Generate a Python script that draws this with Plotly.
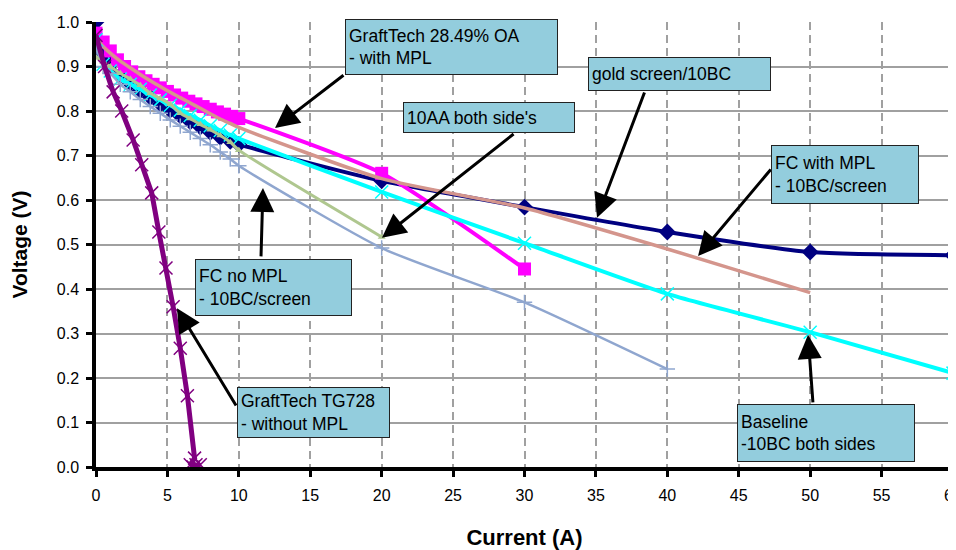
import plotly.graph_objects as go

# ---------------- data ----------------
I_low = [0, 0.5, 1.0, 1.7, 2.4, 3.1, 3.8, 4.5, 5.2, 5.9, 6.6, 7.3, 8.0, 8.7, 9.4, 10.0]

gold_I = I_low + [20, 30, 40, 50, 60]
gold_V = [1.0, 0.93, 0.905, 0.88, 0.862, 0.846, 0.831, 0.816, 0.802, 0.789, 0.776, 0.764,
          0.752, 0.741, 0.732, 0.725, 0.643, 0.584, 0.528, 0.483, 0.476]

graft_I = [0, 0.5, 1, 1.5, 2, 2.5, 3, 3.5, 4, 4.5, 5, 5.5, 6, 6.5, 7, 7.5, 8, 8.5, 9, 9.5, 10, 20, 30]
graft_V = [0.975, 0.955, 0.935, 0.915, 0.9, 0.888, 0.877, 0.868, 0.86, 0.852, 0.844, 0.836,
           0.829, 0.822, 0.816, 0.81, 0.804, 0.798, 0.793, 0.788, 0.783, 0.66, 0.445]

fcmpl_I = I_low + [20, 30, 40, 50]
fcmpl_V = [0.965, 0.945, 0.93, 0.912, 0.897, 0.882, 0.868, 0.855, 0.842, 0.83, 0.818, 0.806,
           0.794, 0.782, 0.772, 0.763, 0.648, 0.582, 0.49, 0.392]

base_I = I_low + [20, 30, 40, 50, 60]
base_V = [0.96, 0.905, 0.89, 0.872, 0.86, 0.849, 0.836, 0.825, 0.813, 0.802, 0.79, 0.779,
          0.767, 0.756, 0.746, 0.738, 0.618, 0.503, 0.389, 0.303, 0.211]

fcno_I = I_low + [20, 30, 40]
fcno_V = [0.945, 0.9, 0.885, 0.86, 0.843, 0.826, 0.81, 0.795, 0.78, 0.766, 0.752, 0.738,
          0.724, 0.708, 0.692, 0.677, 0.492, 0.37, 0.22]

aa_I = I_low + [20]
aa_V = [0.92, 0.91, 0.9, 0.885, 0.872, 0.858, 0.84, 0.828, 0.815, 0.795, 0.783, 0.77,
        0.758, 0.745, 0.73, 0.712, 0.517]

tg_I = [0, 0.6, 1.2, 1.8, 2.6, 3.2, 3.9, 4.4, 4.9, 5.4, 5.9, 6.4, 6.9, 6.6, 7.0, 6.8, 7.3]
tg_V = [0.97, 0.9, 0.843, 0.8, 0.735, 0.679, 0.616, 0.528, 0.447, 0.36, 0.267, 0.16,
        0.02, 0.005, 0.005, 0.0, 0.005]

x_ticks = [0, 5, 10, 15, 20, 25, 30, 35, 40, 45, 50, 55, 60]
y_ticks = [0.0, 0.1, 0.2, 0.3, 0.4, 0.5, 0.6, 0.7, 0.8, 0.9, 1.0]

# callouts: text, box centre (I, V), box size px, arrow start (I, V), arrow tip (I, V)
callouts = [
    ("GraftTech 28.49% OA<br>- with MPL", (24.89, 0.944), (213, 56), (17.43, 0.883), (12.53, 0.762)),
    ("gold screen/10BC", (40.85, 0.883), (183, 34), (38.44, 0.845), (35.08, 0.56)),
    ("10AA both side's", (27.52, 0.785), (172, 31), (29.34, 0.751), (20.02, 0.515)),
    ("FC with MPL<br>- 10BC/screen", (52.44, 0.657), (148, 59), (47.33, 0.672), (42.15, 0.474)),
    ("FC no MPL<br>- 10BC/screen", (12.43, 0.403), (157, 57), (11.55, 0.47), (11.69, 0.627)),
    ("GraftTech TG728<br>- without MPL", (15.23, 0.122), (153, 51), (9.87, 0.135), (5.67, 0.357)),
    ("Baseline<br>-10BC both sides", (51.11, 0.076), (178, 58), (50.2, 0.142), (49.85, 0.297)),
]

FONT = "Liberation Sans, Arial, sans-serif"

fig = go.Figure()

fig.add_trace(go.Scatter(x=gold_I, y=gold_V, mode="lines+markers", name="gold screen/10BC",
                         line=dict(color="#000080", width=4, shape="spline", smoothing=0.6),
                         marker=dict(symbol="diamond", size=13, color="#000080")))
fig.add_trace(go.Scatter(x=graft_I, y=graft_V, mode="lines+markers", name="GraftTech 28.49% OA",
                         line=dict(color="#FF00FF", width=4, shape="spline", smoothing=0.6),
                         marker=dict(symbol="square", size=13, color="#FF00FF")))
fig.add_trace(go.Scatter(x=fcmpl_I, y=fcmpl_V, mode="lines", name="FC with MPL",
                         line=dict(color="#D4958C", width=3.5, shape="spline", smoothing=0.6)))
fig.add_trace(go.Scatter(x=base_I, y=base_V, mode="lines+markers", name="Baseline",
                         line=dict(color="#00FFFF", width=4, shape="spline", smoothing=0.6),
                         marker=dict(symbol="x-thin", size=13, color="#00FFFF",
                                     line=dict(color="#00FFFF", width=1.5))))
fig.add_trace(go.Scatter(x=fcno_I, y=fcno_V, mode="lines+markers", name="FC no MPL",
                         line=dict(color="#8FA6CF", width=2.5, shape="spline", smoothing=0.6),
                         marker=dict(symbol="cross-thin", size=11, color="#8FA6CF",
                                     line=dict(color="#8FA6CF", width=1.5))))
fig.add_trace(go.Scatter(x=aa_I, y=aa_V, mode="lines+markers", name="10AA both side's",
                         line=dict(color="#AFC78F", width=3, shape="spline", smoothing=0.6),
                         marker=dict(symbol="triangle-up", size=7, color="#AFC78F")))
fig.add_trace(go.Scatter(x=tg_I, y=tg_V, mode="lines+markers", name="GraftTech TG728",
                         line=dict(color="#800080", width=5),
                         marker=dict(symbol="x-thin", size=13, color="#800080",
                                     line=dict(color="#800080", width=1.5))))

annotations = []
for text, (cx, cy), (w, h), (sx, sy), (tx, ty) in callouts:
    annotations.append(dict(x=tx, y=ty, ax=sx, ay=sy, xref="x", yref="y", axref="x", ayref="y",
                            text="", showarrow=True, arrowhead=2, arrowsize=1.6, arrowwidth=3,
                            arrowcolor="black"))
    annotations.append(dict(x=cx, y=cy, xref="x", yref="y", text=text, showarrow=False,
                            width=w - 8, height=h - 8, align="left", valign="middle",
                            bgcolor="#93CDDD", bordercolor="#222222", borderwidth=1, borderpad=3,
                            font=dict(family=FONT, size=17.5, color="black")))

# page body adds an 8px offset, so the figure margins compensate for it
fig.update_layout(
    width=956, height=550,
    margin=dict(l=88, r=11, t=14, b=91, autoexpand=False),
    paper_bgcolor="white", plot_bgcolor="white",
    showlegend=False,
    font=dict(family=FONT, color="black"),
    annotations=annotations,
    shapes=[dict(type="line", xref="paper", yref="paper", x0=1, x1=1, y0=0, y1=1,
                 line=dict(color="#A0A0A0", width=1.5), layer="below")],
)

fig.update_xaxes(
    range=[0, 60], tickvals=x_ticks, ticktext=[str(v) for v in x_ticks],
    automargin=False,
    showline=True, linecolor="black", linewidth=3.5,
    ticks="outside", ticklen=6, tickwidth=2.5, tickcolor="black",
    showgrid=True, gridcolor="#A0A0A0", gridwidth=1.5, griddash="8px,5px",
    zeroline=False, tickfont=dict(family=FONT, size=16), ticklabelstandoff=5,
    title=dict(text="<b>Current (A)</b>", font=dict(family=FONT, size=22), standoff=28),
)
fig.update_yaxes(
    range=[0, 1.0], tickvals=y_ticks, ticktext=[f"{v:.1f}" for v in y_ticks],
    automargin=False,
    showline=True, linecolor="black", linewidth=3.5,
    ticks="outside", ticklen=6, tickwidth=2.5, tickcolor="black",
    showgrid=True, gridcolor="#A0A0A0", gridwidth=1.5,
    zeroline=False, tickfont=dict(family=FONT, size=16), ticklabelstandoff=4,
    title=dict(text="<b>Voltage (V)</b>", font=dict(family=FONT, size=21), standoff=37),
)

fig.write_html("out.html")
